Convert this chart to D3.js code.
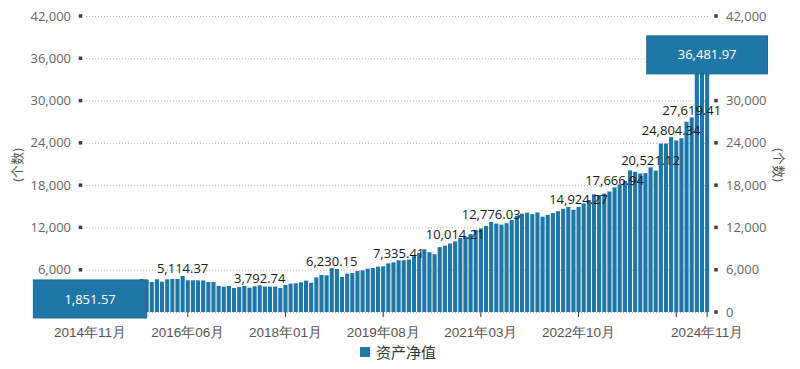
<!DOCTYPE html>
<html>
<head>
<meta charset="utf-8">
<script src="https://cdn.jsdelivr.net/npm/d3@7"></script>
<style>
  html, body { margin: 0; padding: 0; background: #fff; }
  svg { display: block; font-family: "Open Sans", "Noto Sans CJK SC", sans-serif; }
</style>
</head>
<body>
<div id="chart"></div>
<script>
// monthly net asset value, 2014-11 .. 2024-11
var startYear = 2014;
var startMonth = 11;
var netValue = [
  1851.57, 2300, 2750, 3100, 3400, 3650, 3850, 4000, 4150, 4300,
  4683, 4590, 4260, 4640, 4310, 4640, 4690, 4690, 5114.37, 4500,
  4500, 4490, 4480, 4260, 4250, 3690, 3600, 3690, 3400, 3550,
  3690, 3450, 3640, 3792.74, 3600, 3600, 3600, 3400, 3830, 4020,
  4070, 4210, 4450, 4160, 4920, 5250, 5200, 6230.15, 6100, 4970,
  5440, 5530, 5820, 5910, 6150, 6240, 6430, 6480, 6900, 7050,
  7335.41, 7350, 7450, 7900, 8400, 8900, 8480, 8200, 9200, 9420,
  9720, 10014.21, 10500, 10700, 11050, 11650, 11850, 12200, 12776.03, 12550,
  12400, 12600, 13050, 13650, 13950, 14100, 13880, 14120, 13530, 13780,
  14050, 14300, 14650, 14900, 14500, 14924.27, 15400, 15900, 16700, 16600,
  16800, 17100, 17666.94, 18100, 18600, 20100, 19900, 19650, 19700, 20521.12,
  20050, 23900, 23900, 24804.34, 24350, 24650, 27000, 27619.41, 34800, 35600,
  36481.97
];
// bars whose value label survives (the rest overlap and are hidden)
var labelIndex = [18, 33, 47, 60, 71, 78, 95, 102, 109, 113, 117];
var tickIndex = [0, 19, 38, 57, 76, 95, 114, 120];
var tickLabelIndex = [0, 19, 38, 57, 76, 95, 120];
var yTicks = [0, 6000, 12000, 18000, 24000, 30000, 36000, 42000];
var seriesName = '资产净值';
var axisName = '(个数)';

var barColor = '#1f77a8';

var months = [];
for (var i = 0; i < netValue.length; ++i) {
  var m = startMonth - 1 + i;
  var yr = startYear + Math.floor(m / 12);
  months.push(yr + '年' + String(m % 12 + 1).padStart(2, '0') + '月');
}

var chartW = 800, chartH = 369;
var plotLeft = 87.5, plotRight = 709.7, plotTop = 16, plotBottom = 312;

var svg = d3.select('#chart').append('svg').attr('width', chartW).attr('height', chartH);

var x = d3.scaleBand().domain(months).range([plotLeft, plotRight]).paddingInner(0.2).paddingOuter(0.1);
var y = d3.scaleLinear().domain([0, 42000]).range([plotBottom, plotTop]);
var fmt = d3.format(',');
var fmt2 = d3.format(',.2f');

function cx(i) { return x(months[i]) + x.bandwidth() / 2; }

// dotted grid
svg.append('g').selectAll('line').data(yTicks).enter().append('line')
  .attr('x1', 86).attr('x2', 710)
  .attr('y1', function (d) { return y(d) + 0.5; })
  .attr('y2', function (d) { return y(d) + 0.5; })
  .attr('stroke', '#b8b8b8').attr('stroke-dasharray', '1,2');

// y axes: labels + little square markers
function yAxis(sx, lx, anchor) {
  var g = svg.append('g');
  g.selectAll('rect').data(yTicks).enter().append('rect')
    .attr('x', sx - 1.75).attr('y', function (d) { return y(d) - 1.75; })
    .attr('width', 3.5).attr('height', 3.5).attr('fill', '#3a3f4a');
  g.selectAll('text').data(yTicks).enter().append('text')
    .attr('x', lx).attr('y', function (d) { return y(d); })
    .attr('dy', '0.35em').attr('text-anchor', anchor)
    .attr('font-size', 13).attr('fill', '#666')
    .text(fmt);
}
yAxis(80.5, 71, 'end');
yAxis(716, 726, 'start');

svg.append('text').attr('transform', 'translate(17,165) rotate(-90)')
  .attr('text-anchor', 'middle').attr('dy', '0.35em')
  .attr('font-size', 13).attr('fill', '#555').text(axisName);
svg.append('text').attr('transform', 'translate(779,165) rotate(90)')
  .attr('text-anchor', 'middle').attr('dy', '0.35em')
  .attr('font-size', 13).attr('fill', '#555').text(axisName);

// bars
svg.append('g').selectAll('rect').data(netValue).enter().append('rect')
  .attr('x', function (d, i) { return x(months[i]); })
  .attr('y', function (d) { return y(d); })
  .attr('width', x.bandwidth())
  .attr('height', function (d) { return plotBottom - y(d); })
  .attr('fill', barColor);

// x axis
var xAxis = d3.axisBottom(x)
  .tickValues(tickIndex.map(function (i) { return months[i]; }))
  .tickSize(5).tickPadding(10)
  .tickFormat(function (d) {
    return tickLabelIndex.indexOf(months.indexOf(d)) >= 0 ? d : '';
  });
var gx = svg.append('g').attr('transform', 'translate(0,' + plotBottom + ')').call(xAxis);
gx.select('.domain').remove();
gx.selectAll('line').attr('stroke', '#333');
gx.selectAll('text').attr('font-size', 13.5).attr('fill', '#555').attr('font-family', null);

// value labels
svg.append('g').selectAll('text').data(labelIndex).enter().append('text')
  .attr('x', cx)
  .attr('y', function (i) { return y(netValue[i]) - 2.5; })
  .attr('text-anchor', 'middle').attr('font-size', 13).attr('fill', '#1a1a1a')
  .text(function (i) { return fmt2(netValue[i]); });

// min / max boxes
[d3.minIndex(netValue), d3.maxIndex(netValue)].forEach(function (i) {
  var g = svg.append('g').attr('transform', 'translate(' + cx(i) + ',' + y(netValue[i]) + ')');
  var r = g.append('rect');
  var t = g.append('text').attr('text-anchor', 'middle').attr('dy', '0.35em')
    .attr('font-size', 13).attr('fill', '#fff').text(fmt2(netValue[i]));
  var w = t.node().getComputedTextLength() + 62;
  r.attr('x', -w / 2).attr('y', -19).attr('width', w).attr('height', 38)
    .attr('fill', barColor).attr('stroke', '#1b6896');
});

// legend
svg.append('rect').attr('x', 360).attr('y', 347).attr('width', 10).attr('height', 10).attr('fill', barColor);
svg.append('text').attr('x', 376).attr('y', 357.5).attr('font-size', 15).attr('fill', '#333').text(seriesName);
</script>
</body>
</html>
